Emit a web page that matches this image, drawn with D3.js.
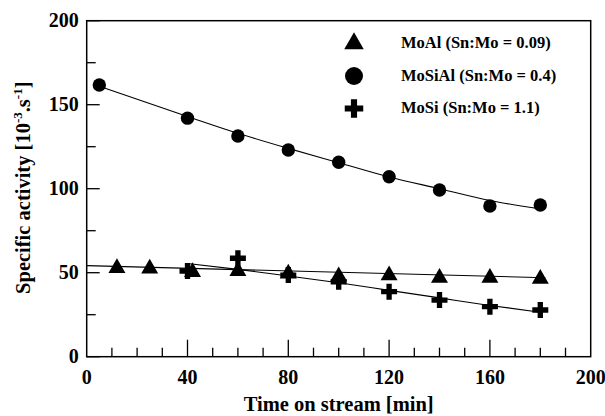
<!DOCTYPE html>
<html>
<head>
<meta charset="utf-8">
<script src="https://cdn.jsdelivr.net/npm/d3@7"></script>
<style>
  body { margin: 0; background: #fff; }
  text { font-family: "Liberation Serif", "Times New Roman", serif; font-weight: bold; fill: #000; }
</style>
</head>
<body>
<script>
// data
var moAlTime = [12, 25, 42, 60, 80, 100, 120, 140, 160, 180];
var moAlAct = [52.8, 52.5, 50.4, 51, 49.5, 47.8, 48.5, 47, 47, 46.3];
var moSiAlTime = [5, 40, 60, 80, 100, 120, 140, 160, 180];
var moSiAlAct = [161.7, 142, 131.4, 123, 115.7, 107.1, 99.2, 89.7, 90.3];
var moSiTime = [40, 60, 80, 100, 120, 140, 160, 180];
var moSiAct = [51, 58.6, 48.6, 44.6, 38.7, 33.7, 29.8, 27.8];

// fitted trend lines (as drawn)
var fitMoAlTime = [0, 182], fitMoAlAct = [54.2, 47];
var fitMoSiAlTime = [5, 40, 60, 80, 100, 120, 140, 160, 180];
var fitMoSiAlAct = [161, 143, 133, 124, 115.5, 107, 100, 93, 88];
var fitMoSiTime = [40, 60, 80, 100, 120, 140, 160, 180];
var fitMoSiAct = [55.5, 52, 48, 44, 39.5, 35, 30.5, 26.5];

var legendLabels = ["MoAl (Sn:Mo = 0.09)", "MoSiAl (Sn:Mo = 0.4)", "MoSi (Sn:Mo = 1.1)"];
var xTicks = [0, 40, 80, 120, 160, 200];
var yTicks = [0, 50, 100, 150, 200];

var W = 605, H = 416
  , margin = {top: 20.7, right: 14.3, bottom: 59.3, left: 86.7}
  , width = W - margin.left - margin.right
  , height = H - margin.top - margin.bottom;

var svgm = d3.select('body').append('svg').attr('width', W).attr('height', H);
var svg = svgm.append('g').attr('transform', `translate(${margin.left},${margin.top})`);

var x = d3.scaleLinear().domain([0, 200]).range([0, width])
  , y = d3.scaleLinear().domain([0, 200]).range([height, 0]);

// frame
svg.append('rect').attr('width', width).attr('height', height)
  .attr('fill', 'none').attr('stroke', '#000').attr('stroke-width', 1.5);

// ticks (inward), major + minor
var xMinor = d3.range(0, 201, 10).filter(function(d) { return d % 40 !== 0; });
var yMinor = d3.range(25, 200, 50);
svg.append('g').selectAll('line.xmaj').data(xTicks.slice(1, -1)).enter().append('line')
  .attr('x1', function(d) { return x(d); }).attr('x2', function(d) { return x(d); })
  .attr('y1', height).attr('y2', height - 17).attr('stroke', '#000').attr('stroke-width', 1.3);
svg.append('g').selectAll('line.xmin').data(xMinor).enter().append('line')
  .attr('x1', function(d) { return x(d); }).attr('x2', function(d) { return x(d); })
  .attr('y1', height).attr('y2', height - 9).attr('stroke', '#000').attr('stroke-width', 1.3);
svg.append('g').selectAll('line.ymaj').data(yTicks).enter().append('line')
  .attr('y1', function(d) { return y(d); }).attr('y2', function(d) { return y(d); })
  .attr('x1', 0).attr('x2', 13).attr('stroke', '#000').attr('stroke-width', 1.3);
svg.append('g').selectAll('line.ymin').data(yMinor).enter().append('line')
  .attr('y1', function(d) { return y(d); }).attr('y2', function(d) { return y(d); })
  .attr('x1', 0).attr('x2', 9).attr('stroke', '#000').attr('stroke-width', 1.3);

// tick labels
svg.append('g').selectAll('text').data(xTicks).enter().append('text')
  .attr('x', function(d) { return x(d); }).attr('y', height + 27)
  .attr('text-anchor', 'middle').style('font-size', '20px').text(function(d) { return d; });
svg.append('g').selectAll('text').data(yTicks).enter().append('text')
  .attr('x', -8).attr('y', function(d) { return y(d) + 6.5; })
  .attr('text-anchor', 'end').style('font-size', '20px').text(function(d) { return d; });

// axis titles
svg.append('text').attr('x', width / 2).attr('y', height + 54)
  .attr('text-anchor', 'middle').style('font-size', '20.5px').text('Time on stream [min]');
var yt = svg.append('text').attr('transform', `translate(${-57},${height / 2 - 1}) rotate(-90)`)
  .attr('text-anchor', 'middle').style('font-size', '20.5px');
yt.append('tspan').text('Specific activity [10');
yt.append('tspan').attr('dy', -8).style('font-size', '13px').text('-3');
yt.append('tspan').attr('dy', 8).text('.s');
yt.append('tspan').attr('dy', -8).style('font-size', '13px').text('-1');
yt.append('tspan').attr('dy', 8).text(']');

// fit lines
function zipPts(ts, vs) { return ts.map(function(t, i) { return [t, vs[i]]; }); }
var line = d3.line().x(function(d) { return x(d[0]); }).y(function(d) { return y(d[1]); })
  .curve(d3.curveMonotoneX);
[[fitMoAlTime, fitMoAlAct], [fitMoSiAlTime, fitMoSiAlAct], [fitMoSiTime, fitMoSiAct]].forEach(function(f) {
  svg.append('path').datum(zipPts(f[0], f[1])).attr('d', line)
    .attr('fill', 'none').attr('stroke', '#000').attr('stroke-width', 1.1);
});

// markers
var symTri = d3.symbol().type(d3.symbolTriangle).size(125)
  , symCirc = d3.symbol().type(d3.symbolCircle).size(141)
  , symCross = d3.symbol().type(d3.symbolCross).size(142);
function drawPts(ts, vs, sym) {
  svg.append('g').selectAll('path').data(zipPts(ts, vs)).enter().append('path')
    .attr('transform', function(d) { return `translate(${x(d[0])},${y(d[1])})`; })
    .attr('d', sym).attr('fill', '#000');
}
drawPts(moAlTime, moAlAct, symTri);
drawPts(moSiAlTime, moSiAlAct, symCirc);
drawPts(moSiTime, moSiAct, symCross);

// legend
var legSyms = [d3.symbol().type(d3.symbolTriangle).size(165)(),
               d3.symbol().type(d3.symbolCircle).size(254)(),
               d3.symbol().type(d3.symbolCross).size(190)()];
var leg = svgm.append('g');
legendLabels.forEach(function(lab, i) {
  var cy = 43.5 + i * 32.5;
  leg.append('path').attr('d', legSyms[i]).attr('transform', `translate(354,${cy})`).attr('fill', '#000');
  leg.append('text').attr('x', 401).attr('y', cy + 4.5).style('font-size', '16.5px').text(lab);
});
</script>
</body>
</html>
